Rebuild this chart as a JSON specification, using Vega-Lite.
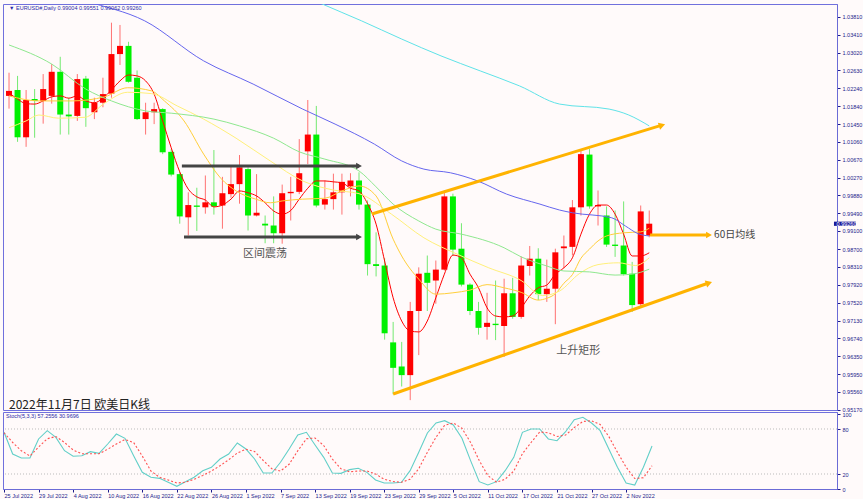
{
"$schema": "https://vega.github.io/schema/vega-lite/v6.json",
"background": "#fffafa",
"padding": {"left": 2, "top": 3, "right": 0, "bottom": 0},
"spacing": 2,
"bounds": "flush",
"config": {"view": {"stroke": "#7070dd", "strokeWidth": 1}, "font": "Liberation Sans", "axis": {"labelOverlap": false, "grid": false, "title": null, "labelFontSize": 5.5, "labelFont": "Liberation Sans", "labelColor": "#1c1c8c", "tickColor": "#1c1c8c", "tickSize": 3, "domainColor": "#6b6bd6", "labelPadding": 2}},
"datasets": {
"candles": [
{"i":0,"date":"2022-07-25","open":1.0207,"high":1.0258,"low":1.0179,"close":1.0218},
{"i":1,"date":"2022-07-26","open":1.0220,"high":1.0251,"low":1.0106,"close":1.0116},
{"i":2,"date":"2022-07-27","open":1.0116,"high":1.0220,"low":1.0095,"close":1.0198},
{"i":3,"date":"2022-07-28","open":1.0200,"high":1.0222,"low":1.0115,"close":1.0196},
{"i":4,"date":"2022-07-29","open":1.0196,"high":1.0255,"low":1.0146,"close":1.0222},
{"i":5,"date":"2022-08-01","open":1.0207,"high":1.0277,"low":1.0190,"close":1.0260},
{"i":6,"date":"2022-08-02","open":1.0260,"high":1.0293,"low":1.0122,"close":1.0166},
{"i":7,"date":"2022-08-03","open":1.0166,"high":1.0203,"low":1.0122,"close":1.0162},
{"i":8,"date":"2022-08-04","open":1.0163,"high":1.0255,"low":1.0152,"close":1.0244},
{"i":9,"date":"2022-08-05","open":1.0245,"high":1.0251,"low":1.0139,"close":1.0180},
{"i":10,"date":"2022-08-08","open":1.0171,"high":1.0203,"low":1.0156,"close":1.0192},
{"i":11,"date":"2022-08-09","open":1.0192,"high":1.0247,"low":1.0182,"close":1.0211},
{"i":12,"date":"2022-08-10","open":1.0212,"high":1.0368,"low":1.0203,"close":1.0299},
{"i":13,"date":"2022-08-11","open":1.0299,"high":1.0363,"low":1.0275,"close":1.0317},
{"i":14,"date":"2022-08-12","open":1.0317,"high":1.0326,"low":1.0236,"close":1.0238},
{"i":15,"date":"2022-08-15","open":1.0247,"high":1.0263,"low":1.0154,"close":1.0156},
{"i":16,"date":"2022-08-16","open":1.0156,"high":1.0192,"low":1.0122,"close":1.0171},
{"i":17,"date":"2022-08-17","open":1.0171,"high":1.0192,"low":1.0145,"close":1.0178},
{"i":18,"date":"2022-08-18","open":1.0178,"high":1.0180,"low":1.0079,"close":1.0083},
{"i":19,"date":"2022-08-19","open":1.0084,"high":1.0090,"low":1.0030,"close":1.0034},
{"i":20,"date":"2022-08-22","open":1.0035,"high":1.0040,"low":0.9926,"close":0.9942},
{"i":21,"date":"2022-08-23","open":0.9940,"high":0.9995,"low":0.9900,"close":0.9967},
{"i":22,"date":"2022-08-24","open":0.9966,"high":1.0005,"low":0.9910,"close":0.9963},
{"i":23,"date":"2022-08-25","open":0.9962,"high":1.0032,"low":0.9948,"close":0.9973},
{"i":24,"date":"2022-08-26","open":0.9973,"high":1.0088,"low":0.9946,"close":0.9964},
{"i":25,"date":"2022-08-29","open":0.9966,"high":1.0029,"low":0.9915,"close":0.9993},
{"i":26,"date":"2022-08-30","open":0.9991,"high":1.0051,"low":0.9983,"close":1.0013},
{"i":27,"date":"2022-08-31","open":1.0013,"high":1.0077,"low":0.9970,"close":1.0050},
{"i":28,"date":"2022-09-01","open":1.0046,"high":1.0050,"low":0.9911,"close":0.9944},
{"i":29,"date":"2022-09-02","open":0.9944,"high":1.0035,"low":0.9942,"close":0.9950},
{"i":30,"date":"2022-09-05","open":0.9926,"high":0.9944,"low":0.9883,"close":0.9922},
{"i":31,"date":"2022-09-06","open":0.9922,"high":0.9986,"low":0.9883,"close":0.9905},
{"i":32,"date":"2022-09-07","open":0.9905,"high":1.0012,"low":0.9882,"close":0.9993},
{"i":33,"date":"2022-09-08","open":0.9993,"high":1.0029,"low":0.9933,"close":0.9996},
{"i":34,"date":"2022-09-09","open":0.9996,"high":1.0112,"low":0.9991,"close":1.0037},
{"i":35,"date":"2022-09-12","open":1.0085,"high":1.0198,"low":1.0057,"close":1.0122},
{"i":36,"date":"2022-09-13","open":1.0122,"high":1.0185,"low":0.9962,"close":0.9966},
{"i":37,"date":"2022-09-14","open":0.9968,"high":1.0021,"low":0.9957,"close":0.9980},
{"i":38,"date":"2022-09-15","open":0.9980,"high":1.0036,"low":0.9957,"close":0.9995},
{"i":39,"date":"2022-09-16","open":0.9995,"high":1.0036,"low":0.9946,"close":1.0018},
{"i":40,"date":"2022-09-19","open":1.0008,"high":1.0037,"low":0.9986,"close":1.0021},
{"i":41,"date":"2022-09-20","open":1.0021,"high":1.0039,"low":0.9957,"close":0.9968},
{"i":42,"date":"2022-09-21","open":0.9968,"high":0.9977,"low":0.9812,"close":0.9837},
{"i":43,"date":"2022-09-22","open":0.9837,"high":0.9907,"low":0.9810,"close":0.9833},
{"i":44,"date":"2022-09-23","open":0.9834,"high":0.9850,"low":0.9671,"close":0.9685},
{"i":45,"date":"2022-09-26","open":0.9665,"high":0.9710,"low":0.9551,"close":0.9609},
{"i":46,"date":"2022-09-27","open":0.9612,"high":0.9666,"low":0.9568,"close":0.9593},
{"i":47,"date":"2022-09-28","open":0.9593,"high":0.9754,"low":0.9538,"close":0.9734},
{"i":48,"date":"2022-09-29","open":0.9734,"high":0.9830,"low":0.9637,"close":0.9816},
{"i":49,"date":"2022-09-30","open":0.9818,"high":0.9856,"low":0.9734,"close":0.9796},
{"i":50,"date":"2022-10-03","open":0.9801,"high":0.9845,"low":0.9750,"close":0.9825},
{"i":51,"date":"2022-10-04","open":0.9825,"high":0.9999,"low":0.9823,"close":0.9986},
{"i":52,"date":"2022-10-05","open":0.9986,"high":0.9992,"low":0.9856,"close":0.9869},
{"i":53,"date":"2022-10-06","open":0.9871,"high":0.9927,"low":0.9788,"close":0.9792},
{"i":54,"date":"2022-10-07","open":0.9792,"high":0.9795,"low":0.9725,"close":0.9734},
{"i":55,"date":"2022-10-10","open":0.9734,"high":0.9754,"low":0.9682,"close":0.9697},
{"i":56,"date":"2022-10-11","open":0.9699,"high":0.9774,"low":0.9671,"close":0.9708},
{"i":57,"date":"2022-10-12","open":0.9706,"high":0.9801,"low":0.9670,"close":0.9703},
{"i":58,"date":"2022-10-13","open":0.9701,"high":0.9805,"low":0.9633,"close":0.9773},
{"i":59,"date":"2022-10-14","open":0.9773,"high":0.9807,"low":0.9717,"close":0.9721},
{"i":60,"date":"2022-10-17","open":0.9721,"high":0.9854,"low":0.9717,"close":0.9834},
{"i":61,"date":"2022-10-18","open":0.9833,"high":0.9877,"low":0.9812,"close":0.9849},
{"i":62,"date":"2022-10-19","open":0.9849,"high":0.9872,"low":0.9758,"close":0.9771},
{"i":63,"date":"2022-10-20","open":0.9771,"high":0.9847,"low":0.9754,"close":0.9783},
{"i":64,"date":"2022-10-21","open":0.9783,"high":0.9871,"low":0.9705,"close":0.9863},
{"i":65,"date":"2022-10-24","open":0.9872,"high":0.9900,"low":0.9828,"close":0.9876},
{"i":66,"date":"2022-10-25","open":0.9875,"high":0.9978,"low":0.9856,"close":0.9962},
{"i":67,"date":"2022-10-26","open":0.9962,"high":1.0088,"low":0.9944,"close":1.0079},
{"i":68,"date":"2022-10-27","open":1.0078,"high":1.0090,"low":0.9959,"close":0.9964},
{"i":69,"date":"2022-10-28","open":0.9964,"high":0.9999,"low":0.9922,"close":0.9967},
{"i":70,"date":"2022-10-31","open":0.9944,"high":0.9964,"low":0.9875,"close":0.9880},
{"i":71,"date":"2022-11-01","open":0.9880,"high":0.9955,"low":0.9853,"close":0.9877},
{"i":72,"date":"2022-11-02","open":0.9878,"high":0.9975,"low":0.9812,"close":0.9815},
{"i":73,"date":"2022-11-03","open":0.9816,"high":0.9842,"low":0.9732,"close":0.9747},
{"i":74,"date":"2022-11-04","open":0.9749,"high":0.9966,"low":0.9744,"close":0.9953},
{"i":75,"date":"2022-11-07","open":0.9900,"high":0.9955,"low":0.9896,"close":0.9926}
],
"ma": [
{"s":"MA5","i":0,"v":1.0214},{"s":"MA5","i":1,"v":1.0200},{"s":"MA5","i":2,"v":1.0190},{"s":"MA5","i":3,"v":1.0189},{"s":"MA5","i":4,"v":1.0196},{"s":"MA5","i":5,"v":1.0205},{"s":"MA5","i":6,"v":1.0207},{"s":"MA5","i":7,"v":1.0202},{"s":"MA5","i":8,"v":1.0207},{"s":"MA5","i":9,"v":1.0196},{"s":"MA5","i":10,"v":1.0192},{"s":"MA5","i":11,"v":1.0202},{"s":"MA5","i":12,"v":1.0220},{"s":"MA5","i":13,"v":1.0240},{"s":"MA5","i":14,"v":1.0253},{"s":"MA5","i":15,"v":1.0251},{"s":"MA5","i":16,"v":1.0240},{"s":"MA5","i":17,"v":1.0211},{"s":"MA5","i":18,"v":1.0152},{"s":"MA5","i":19,"v":1.0093},{"s":"MA5","i":20,"v":1.0040},{"s":"MA5","i":21,"v":1.0002},{"s":"MA5","i":22,"v":0.9985},{"s":"MA5","i":23,"v":0.9978},{"s":"MA5","i":24,"v":0.9963},{"s":"MA5","i":25,"v":0.9967},{"s":"MA5","i":26,"v":0.9980},{"s":"MA5","i":27,"v":0.9998},{"s":"MA5","i":28,"v":0.9994},{"s":"MA5","i":29,"v":0.9987},{"s":"MA5","i":30,"v":0.9972},{"s":"MA5","i":31,"v":0.9954},{"s":"MA5","i":32,"v":0.9947},{"s":"MA5","i":33,"v":0.9955},{"s":"MA5","i":34,"v":0.9980},{"s":"MA5","i":35,"v":1.0004},{"s":"MA5","i":36,"v":1.0020},{"s":"MA5","i":37,"v":1.0020},{"s":"MA5","i":38,"v":1.0018},{"s":"MA5","i":39,"v":1.0016},{"s":"MA5","i":40,"v":1.0004},{"s":"MA5","i":41,"v":0.9998},{"s":"MA5","i":42,"v":0.9970},{"s":"MA5","i":43,"v":0.9925},{"s":"MA5","i":44,"v":0.9844},{"s":"MA5","i":45,"v":0.9763},{"s":"MA5","i":46,"v":0.9712},{"s":"MA5","i":47,"v":0.9690},{"s":"MA5","i":48,"v":0.9688},{"s":"MA5","i":49,"v":0.9712},{"s":"MA5","i":50,"v":0.9763},{"s":"MA5","i":51,"v":0.9815},{"s":"MA5","i":52,"v":0.9857},{"s":"MA5","i":53,"v":0.9851},{"s":"MA5","i":54,"v":0.9815},{"s":"MA5","i":55,"v":0.9785},{"s":"MA5","i":56,"v":0.9741},{"s":"MA5","i":57,"v":0.9723},{"s":"MA5","i":58,"v":0.9721},{"s":"MA5","i":59,"v":0.9723},{"s":"MA5","i":60,"v":0.9741},{"s":"MA5","i":61,"v":0.9767},{"s":"MA5","i":62,"v":0.9785},{"s":"MA5","i":63,"v":0.9791},{"s":"MA5","i":64,"v":0.9815},{"s":"MA5","i":65,"v":0.9829},{"s":"MA5","i":66,"v":0.9851},{"s":"MA5","i":67,"v":0.9903},{"s":"MA5","i":68,"v":0.9947},{"s":"MA5","i":69,"v":0.9967},{"s":"MA5","i":70,"v":0.9967},{"s":"MA5","i":71,"v":0.9947},{"s":"MA5","i":72,"v":0.9903},{"s":"MA5","i":73,"v":0.9855},{"s":"MA5","i":74,"v":0.9855},{"s":"MA5","i":75,"v":0.9862},
{"s":"MA10","i":0,"v":1.0207},{"s":"MA10","i":3.5,"v":1.0196},{"s":"MA10","i":7.4,"v":1.0196},{"s":"MA10","i":11.2,"v":1.0205},{"s":"MA10","i":13.9,"v":1.0225},{"s":"MA10","i":16.7,"v":1.0218},{"s":"MA10","i":18.2,"v":1.0196},{"s":"MA10","i":20.5,"v":1.0152},{"s":"MA10","i":22.8,"v":1.0079},{"s":"MA10","i":24.8,"v":1.0026},{"s":"MA10","i":26.6,"v":0.9998},{"s":"MA10","i":28.9,"v":0.9980},{"s":"MA10","i":30.6,"v":0.9972},{"s":"MA10","i":32,"v":0.9976},{"s":"MA10","i":34.4,"v":0.9980},{"s":"MA10","i":37,"v":0.9982},{"s":"MA10","i":39,"v":0.9998},{"s":"MA10","i":41,"v":1.0009},{"s":"MA10","i":43,"v":0.9987},{"s":"MA10","i":45,"v":0.9892},{"s":"MA10","i":46,"v":0.9855},{"s":"MA10","i":48,"v":0.9804},{"s":"MA10","i":50,"v":0.9771},{"s":"MA10","i":52,"v":0.9774},{"s":"MA10","i":54,"v":0.9780},{"s":"MA10","i":56,"v":0.9792},{"s":"MA10","i":58,"v":0.9785},{"s":"MA10","i":60,"v":0.9775},{"s":"MA10","i":62,"v":0.9758},{"s":"MA10","i":63,"v":0.9762},{"s":"MA10","i":64,"v":0.9772},{"s":"MA10","i":65,"v":0.9795},{"s":"MA10","i":66,"v":0.9814},{"s":"MA10","i":67,"v":0.9850},{"s":"MA10","i":68,"v":0.9870},{"s":"MA10","i":69,"v":0.9888},{"s":"MA10","i":70,"v":0.9899},{"s":"MA10","i":72,"v":0.9906},{"s":"MA10","i":74,"v":0.9908},{"s":"MA10","i":75,"v":0.9916},
{"s":"MA20","i":0,"v":1.0137},{"s":"MA20","i":2,"v":1.0152},{"s":"MA20","i":3.5,"v":1.0165},{"s":"MA20","i":5.8,"v":1.0158},{"s":"MA20","i":8.9,"v":1.0160},{"s":"MA20","i":11.2,"v":1.0191},{"s":"MA20","i":13.9,"v":1.0215},{"s":"MA20","i":16.7,"v":1.0212},{"s":"MA20","i":19.7,"v":1.0185},{"s":"MA20","i":22.8,"v":1.0156},{"s":"MA20","i":26.6,"v":1.0114},{"s":"MA20","i":30.6,"v":1.0064},{"s":"MA20","i":34.4,"v":1.0020},{"s":"MA20","i":38,"v":1.0000},{"s":"MA20","i":41,"v":0.9992},{"s":"MA20","i":44.8,"v":0.9947},{"s":"MA20","i":48.6,"v":0.9895},{"s":"MA20","i":52.5,"v":0.9859},{"s":"MA20","i":56.2,"v":0.9829},{"s":"MA20","i":60,"v":0.9801},{"s":"MA20","i":62.5,"v":0.9768},{"s":"MA20","i":64.5,"v":0.9778},{"s":"MA20","i":66.8,"v":0.9816},{"s":"MA20","i":69,"v":0.9836},{"s":"MA20","i":71.4,"v":0.9840},{"s":"MA20","i":73.4,"v":0.9834},{"s":"MA20","i":75,"v":0.9851},
{"s":"MA30","i":0,"v":1.0319},{"s":"MA30","i":5,"v":1.0277},{"s":"MA30","i":9,"v":1.0222},{"s":"MA30","i":12,"v":1.0196},{"s":"MA30","i":16,"v":1.0174},{"s":"MA30","i":19,"v":1.0169},{"s":"MA30","i":24,"v":1.0156},{"s":"MA30","i":27,"v":1.0141},{"s":"MA30","i":31,"v":1.0114},{"s":"MA30","i":34,"v":1.0084},{"s":"MA30","i":37,"v":1.0068},{"s":"MA30","i":41,"v":1.0042},{"s":"MA30","i":43,"v":1.0007},{"s":"MA30","i":45,"v":0.9969},{"s":"MA30","i":48,"v":0.9932},{"s":"MA30","i":50,"v":0.9914},{"s":"MA30","i":53,"v":0.9903},{"s":"MA30","i":58,"v":0.9873},{"s":"MA30","i":60,"v":0.9853},{"s":"MA30","i":63,"v":0.9833},{"s":"MA30","i":65,"v":0.9822},{"s":"MA30","i":68,"v":0.9820},{"s":"MA30","i":71,"v":0.9813},{"s":"MA30","i":73,"v":0.9815},{"s":"MA30","i":75,"v":0.9826},
{"s":"MA60","i":4,"v":1.0448},{"s":"MA60","i":9,"v":1.0416},{"s":"MA60","i":15.9,"v":1.0372},{"s":"MA60","i":22.8,"v":1.0284},{"s":"MA60","i":28.6,"v":1.0233},{"s":"MA60","i":34.4,"v":1.0178},{"s":"MA60","i":38.2,"v":1.0145},{"s":"MA60","i":42.8,"v":1.0101},{"s":"MA60","i":46,"v":1.0064},{"s":"MA60","i":48.6,"v":1.0046},{"s":"MA60","i":51.7,"v":1.0038},{"s":"MA60","i":54.9,"v":1.0020},{"s":"MA60","i":58.3,"v":0.9991},{"s":"MA60","i":62.2,"v":0.9969},{"s":"MA60","i":64.5,"v":0.9956},{"s":"MA60","i":66,"v":0.9950},{"s":"MA60","i":70.6,"v":0.9939},{"s":"MA60","i":72.2,"v":0.9921},{"s":"MA60","i":73.7,"v":0.9904},{"s":"MA60","i":75,"v":0.9899},
{"s":"MA120","i":33,"v":1.0440},{"s":"MA120","i":36.7,"v":1.0409},{"s":"MA120","i":41.3,"v":1.0372},{"s":"MA120","i":46,"v":1.0332},{"s":"MA120","i":50.6,"v":1.0295},{"s":"MA120","i":55.2,"v":1.0262},{"s":"MA120","i":59.8,"v":1.0229},{"s":"MA120","i":64.5,"v":1.0189},{"s":"MA120","i":70.3,"v":1.0178},{"s":"MA120","i":72.6,"v":1.0165},{"s":"MA120","i":75,"v":1.0141}
],
"stoch": [
{"i":0,"k":75.6,"d":75},{"i":1,"k":46.7,"d":62},{"i":2,"k":41.3,"d":51},{"i":3,"k":41.3,"d":44},{"i":4,"k":66.7,"d":56},{"i":5,"k":77.8,"d":67},{"i":6,"k":68.9,"d":70},{"i":7,"k":51.1,"d":62},{"i":8,"k":43.6,"d":52},{"i":9,"k":44.4,"d":47},{"i":10,"k":49.8,"d":47},{"i":11,"k":47.6,"d":47},{"i":12,"k":60,"d":53},{"i":13,"k":73.3,"d":60},{"i":14,"k":67.6,"d":66},{"i":15,"k":44.4,"d":62},{"i":16,"k":22.2,"d":44},{"i":17,"k":15.6,"d":24},{"i":18,"k":14.2,"d":15.6},{"i":19,"k":8.9,"d":12},{"i":20,"k":3.6,"d":8},{"i":21,"k":9.8,"d":9},{"i":22,"k":15.6,"d":13},{"i":23,"k":24.4,"d":18},{"i":24,"k":28.9,"d":24},{"i":25,"k":40,"d":31},{"i":26,"k":46.7,"d":39},{"i":27,"k":61.3,"d":48},{"i":28,"k":53.3,"d":53},{"i":29,"k":40,"d":50},{"i":30,"k":21.3,"d":38},{"i":31,"k":21.3,"d":27},{"i":32,"k":35.6,"d":24},{"i":33,"k":53.3,"d":33},{"i":34,"k":72,"d":51},{"i":35,"k":75.6,"d":67},{"i":36,"k":58.7,"d":68},{"i":37,"k":42.2,"d":58},{"i":38,"k":21.3,"d":40},{"i":39,"k":20.9,"d":27},{"i":40,"k":25.8,"d":23},{"i":41,"k":27.6,"d":24},{"i":42,"k":22.2,"d":24},{"i":43,"k":12,"d":20},{"i":44,"k":8,"d":13},{"i":45,"k":8,"d":10},{"i":46,"k":8.9,"d":9},{"i":47,"k":24.4,"d":13},{"i":48,"k":48.9,"d":27},{"i":49,"k":74.7,"d":49},{"i":50,"k":88,"d":69},{"i":51,"k":91.1,"d":85},{"i":52,"k":85.3,"d":88},{"i":53,"k":67.6,"d":81},{"i":54,"k":37.8,"d":62},{"i":55,"k":9.8,"d":38},{"i":56,"k":5.3,"d":18},{"i":57,"k":9.8,"d":9},{"i":58,"k":24.4,"d":13},{"i":59,"k":42.2,"d":24},{"i":60,"k":75.6,"d":47},{"i":61,"k":80,"d":62},{"i":62,"k":80,"d":76},{"i":63,"k":66.7,"d":75},{"i":64,"k":64.4,"d":70},{"i":65,"k":76.4,"d":72},{"i":66,"k":92.4,"d":82},{"i":67,"k":95.6,"d":90},{"i":68,"k":88,"d":91},{"i":69,"k":77.8,"d":86},{"i":70,"k":53.3,"d":70},{"i":71,"k":28.9,"d":49},{"i":72,"k":8,"d":29},{"i":73,"k":5.3,"d":14},{"i":74,"k":28.9,"d":15},{"i":75,"k":57.3,"d":31}
],
"blackArrows": [{"x1":20.25,"y1":1.00529,"x2":41.0,"y2":1.00529},{"x1":20.5,"y1":0.98967,"x2":41.0,"y2":0.98967}],
"blackHeads": [{"x":41.0,"y":1.00529},{"x":41.0,"y":0.98967}],
"orangeLines": [{"x1":42.5,"y1":0.99473,"x2":76.2,"y2":1.01410},{"x1":45.0,"y1":0.95515,"x2":81.7,"y2":0.97940},{"x1":75.1,"y1":0.99011,"x2":81.7,"y2":0.99011}],
"headUp": [{"x":76.5,"y":1.01425}],
"headLow": [{"x":82.0,"y":0.97956}],
"headMid": [{"x":82.0,"y":0.99011}],
"priceBox": [{"x1":96.64,"x2":99.2,"y1":0.99305,"y2":0.99212,"label":"0.99260","xt":96.95,"yt":0.99260}]
},
"vconcat": [
{
"width": 834, "height": 406,
"layer": [
{"data": {"name": "candles"}, "mark": {"type": "rule", "strokeWidth": 1, "opacity": 0.55, "clip": true},
 "encoding": {
  "x": {"field": "i", "type": "quantitative", "scale": {"domain": [-0.12, 96.41], "nice": false, "zero": false}, "axis": null},
  "y": {"field": "low", "type": "quantitative", "scale": {"domain": [0.95163, 1.04091], "nice": false, "zero": false},
        "axis": {"orient": "right", "tickCount": 100, "values": [1.0381,1.0341,1.0302,1.0263,1.0224,1.0184,1.0145,1.0106,1.0067,1.0027,0.9988,0.9949,0.991,0.987,0.9831,0.9792,0.9752,0.9713,0.9674,0.9635,0.9595,0.9556,0.9517], "format": ".5f", "labelOverlap": false, "labelBaseline": "middle"}},
  "y2": {"field": "high"},
  "color": {"condition": {"test": "datum.close >= datum.open", "value": "#ff0000"}, "value": "#00dd00"}
 }},
{"data": {"name": "candles"}, "mark": {"type": "bar", "size": 6, "clip": true},
 "encoding": {
  "x": {"field": "i", "type": "quantitative"},
  "y": {"field": "open", "type": "quantitative"},
  "y2": {"field": "close"},
  "color": {"condition": {"test": "datum.close >= datum.open", "value": "#ff0000"}, "value": "#00f000"}
 }},
{"data": {"name": "ma"}, "mark": {"type": "line", "clip": true, "interpolate": "monotone"},
 "encoding": {
  "x": {"field": "i", "type": "quantitative"},
  "y": {"field": "v", "type": "quantitative"},
  "color": {"field": "s", "type": "nominal", "scale": {"domain": ["MA120","MA60","MA30","MA20","MA10","MA5"], "range": ["#5fe3e8","#6666ee","#8fe88f","#fff07a","#ffcf3a","#ff0000"]}, "legend": null},
  "strokeWidth": {"field": "s", "type": "nominal", "scale": {"domain": ["MA120","MA60","MA30","MA20","MA10","MA5"], "range": [1,1,1,1,1,1.4]}, "legend": null},
  "order": {"field": "i", "type": "quantitative"}
 }},
{"data": {"name": "blackArrows"}, "mark": {"type": "rule", "color": "#444444", "strokeWidth": 3},
 "encoding": {
  "x": {"field": "x1", "type": "quantitative"},
  "x2": {"field": "x2"},
  "y": {"field": "y1", "type": "quantitative"},
  "y2": {"field": "y2"}
 }},
{"data": {"name": "blackHeads"}, "mark": {"type": "point", "shape": "triangle-right", "filled": true, "color": "#444444", "size": 45, "opacity": 1},
 "encoding": {
  "x": {"field": "x", "type": "quantitative"},
  "y": {"field": "y", "type": "quantitative"}
 }},
{"data": {"name": "orangeLines"}, "mark": {"type": "rule", "color": "#ffb300", "strokeWidth": 3},
 "encoding": {
  "x": {"field": "x1", "type": "quantitative"},
  "x2": {"field": "x2"},
  "y": {"field": "y1", "type": "quantitative"},
  "y2": {"field": "y2"}
 }},
{"data": {"name": "headUp"}, "mark": {"type": "point", "shape": "triangle-right", "filled": true, "color": "#ffb300", "size": 55, "opacity": 1, "angle": 343},
 "encoding": {
  "x": {"field": "x", "type": "quantitative"},
  "y": {"field": "y", "type": "quantitative"}
 }},
{"data": {"name": "headLow"}, "mark": {"type": "point", "shape": "triangle-right", "filled": true, "color": "#ffb300", "size": 55, "opacity": 1, "angle": 341},
 "encoding": {
  "x": {"field": "x", "type": "quantitative"},
  "y": {"field": "y", "type": "quantitative"}
 }},
{"data": {"name": "headMid"}, "mark": {"type": "point", "shape": "triangle-right", "filled": true, "color": "#ffb300", "size": 45, "opacity": 1},
 "encoding": {
  "x": {"field": "x", "type": "quantitative"},
  "y": {"field": "y", "type": "quantitative"}
 }},
{"data": {"values": [{"x":27.4,"y":0.98594,"t":"区间震荡"},{"x":64.1,"y":0.9646,"t":"上升矩形"}]}, "mark": {"type": "text", "align": "left", "baseline": "middle", "font": "Noto Sans CJK SC", "fontSize": 11, "color": "#555555"},
 "encoding": {
  "x": {"field": "x", "type": "quantitative"},
  "y": {"field": "y", "type": "quantitative"},
  "text": {"field": "t"}
 }},
{"data": {"values": [{"x":82.6,"y":0.99011,"t":"60日均线"}]}, "mark": {"type": "text", "align": "left", "baseline": "middle", "font": "Noto Sans CJK SC", "fontSize": 10, "color": "#444444"},
 "encoding": {
  "x": {"field": "x", "type": "quantitative"},
  "y": {"field": "y", "type": "quantitative"},
  "text": {"field": "t"}
 }},
{"data": {"values": [{"x":0,"y":0.95273,"t":"2022年11月7日 欧美日K线"}]}, "mark": {"type": "text", "align": "left", "baseline": "middle", "font": "Noto Sans CJK SC", "fontSize": 12, "color": "#222222"},
 "encoding": {
  "x": {"field": "x", "type": "quantitative"},
  "y": {"field": "y", "type": "quantitative"},
  "text": {"field": "t"}
 }},
{"data": {"values": [{"x":0,"y":1.04014,"t":"▼ EURUSD#,Daily  0.99004 0.99551 0.99062 0.99260"}]}, "mark": {"type": "text", "align": "left", "baseline": "middle", "font": "Liberation Sans", "fontSize": 5.5, "color": "#2a2aa8"},
 "encoding": {
  "x": {"field": "x", "type": "quantitative"},
  "y": {"field": "y", "type": "quantitative"},
  "text": {"field": "t"}
 }},
{"data": {"name": "priceBox"}, "mark": {"type": "rect", "color": "#1a1a9a", "clip": false},
 "encoding": {
  "x": {"field": "x1", "type": "quantitative"},
  "x2": {"field": "x2"},
  "y": {"field": "y1", "type": "quantitative"},
  "y2": {"field": "y2"}
 }},
{"data": {"name": "priceBox"}, "mark": {"type": "text", "align": "left", "baseline": "middle", "font": "Liberation Sans", "fontSize": 5.5, "color": "#ffffff", "clip": false},
 "encoding": {
  "x": {"field": "xt", "type": "quantitative"},
  "y": {"field": "yt", "type": "quantitative"},
  "text": {"field": "label"}
 }}
]
},
{
"width": 834, "height": 77,
"layer": [
{"data": {"values": [{"lv": 80}, {"lv": 20}]}, "mark": {"type": "rule", "color": "#bbbbbb", "strokeDash": [1, 2], "strokeWidth": 1},
 "encoding": {
  "y": {"field": "lv", "type": "quantitative", "scale": {"domain": [0, 102.67], "nice": false, "zero": false},
        "axis": {"orient": "right", "tickCount": 20, "values": [0, 20, 80, 100], "labelOverlap": false}}
 }},
{"data": {"name": "stoch"}, "mark": {"type": "line", "color": "#62cfc8", "strokeWidth": 1.1, "clip": true},
 "encoding": {
  "x": {"field": "i", "type": "quantitative", "scale": {"domain": [-0.12, 96.41], "nice": false, "zero": false},
        "axis": {"orient": "bottom", "tickCount": 100, "values": [0,4,8,12,16,20,24,28,32,36,40,44,48,52,56,60,64,68,72],
                 "labelExpr": "['25 Jul 2022','29 Jul 2022','4 Aug 2022','10 Aug 2022','16 Aug 2022','22 Aug 2022','26 Aug 2022','1 Sep 2022','7 Sep 2022','13 Sep 2022','19 Sep 2022','23 Sep 2022','29 Sep 2022','5 Oct 2022','11 Oct 2022','17 Oct 2022','21 Oct 2022','27 Oct 2022','2 Nov 2022'][round(datum.value/4)]",
                 "labelAlign": "left", "labelPadding": 1, "labelOverlap": false, "labelFlush": false}},
  "y": {"field": "k", "type": "quantitative"}
 }},
{"data": {"name": "stoch"}, "mark": {"type": "line", "color": "#ff5050", "strokeWidth": 1.1, "strokeDash": [2, 2], "clip": true},
 "encoding": {
  "x": {"field": "i", "type": "quantitative"},
  "y": {"field": "d", "type": "quantitative"}
 }},
{"data": {"values": [{"x": 0.23, "y": 97, "t": "Stoch(5,3,3) 57.2556 30.9696"}]}, "mark": {"type": "text", "align": "left", "baseline": "middle", "font": "Liberation Sans", "fontSize": 5.5, "color": "#2a2aa8"},
 "encoding": {
  "x": {"field": "x", "type": "quantitative"},
  "y": {"field": "y", "type": "quantitative"},
  "text": {"field": "t"}
 }}
]
}
]
}
